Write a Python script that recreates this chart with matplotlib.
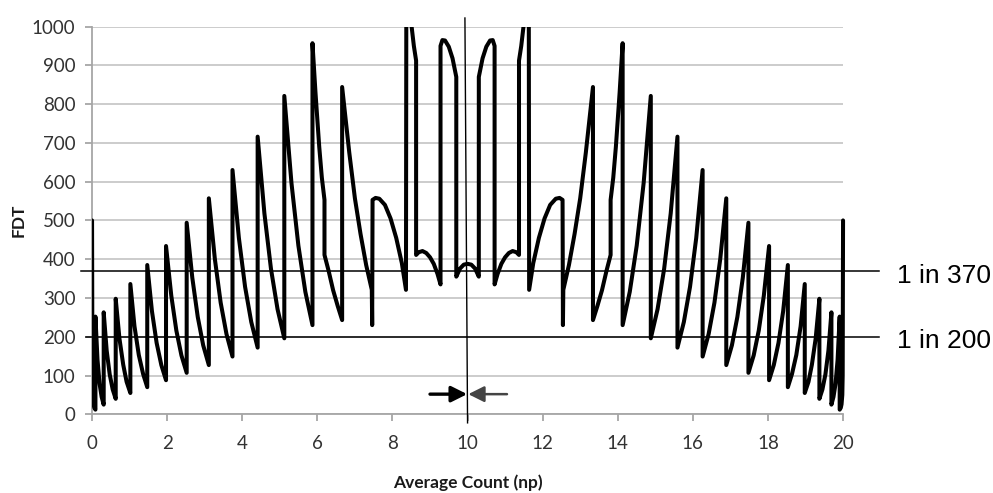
import matplotlib.pyplot as plt
from matplotlib.patches import Rectangle
import numpy as np

# left half of the FDT curve (average count 0..10)
# the curve is symmetric about np = 10, the right half mirrors it
np_left = [0.0, 0.01, 0.02, 0.04, 0.06, 0.09,
           0.09, 0.145, 0.20, 0.255, 0.31,
           0.31, 0.39, 0.47, 0.55, 0.63,
           0.63, 0.73, 0.83, 0.92, 1.02,
           1.02, 1.13, 1.245, 1.36, 1.47,
           1.47, 1.595, 1.72, 1.845, 1.97,
           1.97, 2.11, 2.245, 2.38, 2.52,
           2.52, 2.67, 2.815, 2.96, 3.11,
           3.11, 3.27, 3.425, 3.58, 3.74,
           3.74, 3.91, 4.075, 4.24, 4.41,
           4.41, 4.59, 4.765, 4.94, 5.12,
           5.12, 5.31, 5.495, 5.68, 5.87,
           5.87, 5.95, 6.05, 6.12, 6.19,
           6.19, 6.30, 6.42, 6.54, 6.66,
           6.66, 6.85, 7.0, 7.15, 7.30, 7.45, 7.46,
           7.47, 7.55, 7.65, 7.8, 7.95, 8.1, 8.25, 8.36,
           8.37, 8.45, 8.51, 8.57, 8.63,
           8.63, 8.7, 8.8, 8.9, 9.0, 9.1, 9.2, 9.28,
           9.28, 9.33, 9.4, 9.5, 9.6, 9.7,
           9.7, 9.8, 9.9, 10.0]
fdt_left = [500, 100, 50, 26, 17, 12,
            252, 141, 79, 45, 25,
            263, 164, 103, 64, 40,
            298, 195, 128, 84, 55,
            336, 227, 153, 104, 70,
            385, 266, 184, 127, 88,
            434, 306, 216, 152, 107,
            494, 352, 251, 178, 127,
            557, 401, 288, 207, 149,
            630, 455, 329, 238, 172,
            716, 518, 375, 271, 196,
            821, 597, 435, 316, 230,
            957, 830, 690, 610, 553,
            411, 370, 320, 280, 243,
            844, 675, 557, 465, 385, 321, 230,
            553, 558, 556, 540, 505, 455, 390, 321,
            1110, 1045, 1000, 950, 912,
            411, 418, 421, 416, 405, 388, 362, 335,
            950, 965, 964, 948, 918, 870,
            355, 376, 386, 388]

ref_levels = [370, 200]
ref_labels = ['1 in 370', '1 in 200']
x_ticks = list(range(0, 21, 2))
y_ticks = list(range(0, 1001, 100))

x_left = np.array(np_left)
y_left = np.array(fdt_left)
x_all = np.concatenate([x_left, 20 - x_left[::-1][1:]])
y_all = np.concatenate([y_left, y_left[::-1][1:]])

tick_font = 'Lato'
grey = '#a6a6a6'

fig = plt.figure(figsize=(9.93, 4.93), dpi=100)
ax = fig.add_axes([0.0927, 0.1596, 0.7563, 0.7866])

line, = ax.plot(x_all, y_all, color='black', lw=2.9,
                solid_joinstyle='round', solid_capstyle='round', zorder=3)
clip = Rectangle((0, -0.02), 1.012, 1.02, transform=ax.transAxes,
                 facecolor='none', edgecolor='none')
ax.add_patch(clip)
line.set_clip_path(clip)

ax.set_xlim(0, 20)
ax.set_ylim(0, 1000)
ax.set_xticks(x_ticks)
ax.set_yticks(y_ticks)
ax.yaxis.grid(True, color='#c8c8c8', lw=1.3)
ax.set_axisbelow(True)
for s in ['top', 'right']:
    ax.spines[s].set_visible(False)
for s in ['left', 'bottom']:
    ax.spines[s].set_color(grey)
    ax.spines[s].set_linewidth(1.3)
ax.tick_params(direction='out', length=5, width=1.3, color=grey,
               labelcolor='#333333', labelsize=13.5)
ax.tick_params(axis='y', pad=7)
ax.tick_params(axis='x', pad=10)
for lab in ax.get_xticklabels() + ax.get_yticklabels():
    lab.set_family(tick_font)

ax.set_xlabel('Average Count (np)', family=tick_font, fontweight='bold',
              fontsize=12.5, color='#1a1a1a', labelpad=16)
ax.set_ylabel('FDT', family=tick_font, fontweight='bold',
              fontsize=12.5, color='#1a1a1a', labelpad=4)

# reference lines with labels on the right
starts = [-0.3, -0.15]
offsets = [-13, -11]
for lvl, lab, x0, off in zip(ref_levels, ref_labels, starts, offsets):
    ax.plot([x0, 20.97], [lvl, lvl], color='black', lw=1.1, clip_on=False, zorder=4)
    ax.text(21.43, lvl + off, lab, fontsize=19, va='center', ha='left',
            family=['Liberation Sans Narrow', 'Liberation Sans'], color='black')

# centre marker and arrows
ax.plot([9.93, 10.0], [1022, -22], color='black', lw=1.0, clip_on=False, zorder=4)
ax.annotate('', xy=(9.99, 52), xytext=(9.0, 52), annotation_clip=False,
            arrowprops=dict(arrowstyle='-|>', color='black', lw=2.4,
                            mutation_scale=24, shrinkA=0, shrinkB=0))
ax.annotate('', xy=(10.02, 52), xytext=(11.05, 52), annotation_clip=False,
            arrowprops=dict(arrowstyle='-|>', color='#444444', lw=1.8,
                            mutation_scale=24, shrinkA=0, shrinkB=0))

fig.savefig('out.png', dpi=100)
